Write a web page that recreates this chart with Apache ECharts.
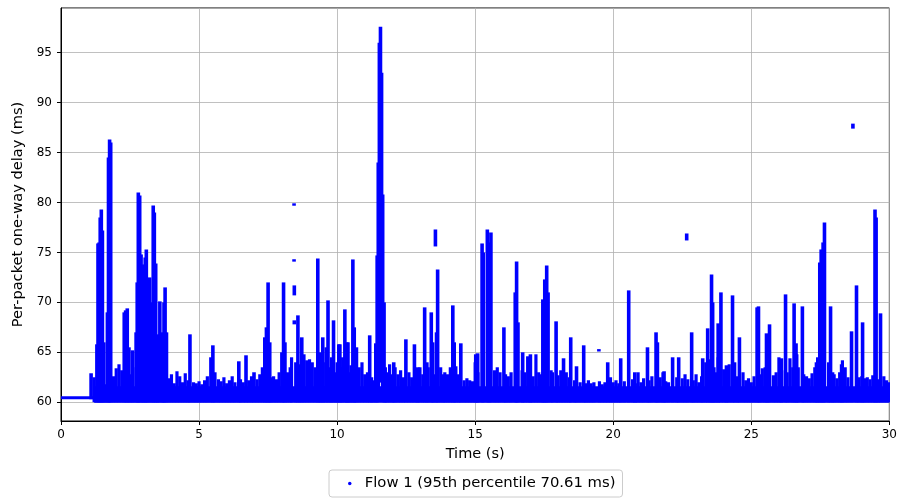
<!DOCTYPE html>
<html><head><meta charset="utf-8">
<script src="https://cdn.jsdelivr.net/npm/echarts@6/dist/echarts.min.js"></script>
<style>html,body{margin:0;padding:0;background:#fff}#c{width:900px;height:500px}</style>
</head><body><div id="c"></div>
<script>
const seriesName = 'Flow 1 (95th percentile 70.61 ms)';
const xLabel = 'Time (s)';
const yLabel = 'Per-packet one-way delay (ms)';
const xRange = [0, 30];
const yRange = [58.12, 99.48];

// dense baseline band: [start time, end time, low delay, high delay]
const bandStart = [0.0, 1.2];
const bandEnd   = [1.2, 30.0];
const bandLow   = [60.3, 59.95];
const bandHigh  = [60.6, 61.6];

// small fluctuations above the baseline: time, top delay
const grassTimes = [1.2,1.6,1.9,2.0,2.1,2.2,2.5,2.6,3.5,3.7,3.9,4.0,4.1,4.2,4.3,4.4,4.5,4.6,4.8,4.9,5.0,5.1,5.2,5.3,5.7,5.8,5.9,6.0,6.1,6.2,6.3,6.5,6.6,6.8,6.9,7.1,7.2,7.6,7.7,7.8,7.9,8.2,8.3,8.35,8.5,8.65,8.8,8.9,9.0,9.1,9.2,9.4,9.5,9.6,9.75,9.8,9.95,10.0,10.15,10.2,10.35,10.4,10.45,10.5,10.65,10.8,10.9,11.0,11.1,11.25,11.3,11.8,11.9,12.0,12.1,12.2,12.3,12.4,12.6,12.7,12.9,13.0,13.1,13.3,13.5,13.75,13.85,13.9,14.0,14.1,14.3,14.4,14.6,14.7,14.8,14.9,15.0,15.1,15.7,15.8,15.9,16.1,16.2,16.3,16.7,16.8,16.9,17.0,17.1,17.2,17.3,17.4,17.5,17.75,17.8,18.0,18.1,18.3,18.4,18.6,18.8,19.0,19.1,19.2,19.3,19.5,19.6,19.7,19.9,20.0,20.1,20.2,20.4,20.7,20.8,20.9,21.0,21.1,21.3,21.4,21.7,21.8,21.9,22.0,22.3,22.5,22.6,22.7,22.9,23.0,23.1,23.2,23.35,23.5,23.65,23.7,23.8,24.0,24.1,24.2,24.4,24.5,24.7,24.8,24.9,25.0,25.1,25.3,25.4,25.5,25.6,25.8,25.9,26.0,26.1,26.3,26.4,26.5,26.65,26.7,26.9,27.0,27.1,27.2,27.3,27.4,27.8,27.95,28.0,28.1,28.2,28.3,28.4,28.5,28.9,29.0,29.1,29.2,29.3,29.4,29.6,29.8,29.9,30.0];
const grassTops  = [62.5,61.8,62.6,63.4,63.8,63.2,62.8,63.5,63.0,62.2,62.4,62.8,61.9,63.1,62.6,62.0,62.9,62.2,62.0,61.9,62.1,61.8,62.2,62.6,62.3,62.1,62.5,61.9,62.2,62.6,62.0,62.3,62.0,62.2,62.6,62.3,62.8,62.5,62.6,62.3,63.0,63.0,63.5,64.5,64.0,63.8,64.8,64.2,64.3,64.0,63.5,64.5,64.0,65.5,63.5,64.5,63.0,64.0,63.5,64.5,64.0,66.0,63.0,63.7,64.0,63.5,64.0,62.8,63.0,62.5,62.2,63.0,63.8,62.8,63.5,62.8,63.2,62.5,63.0,62.5,62.6,63.5,62.8,63.5,62.8,63.5,62.8,63.0,62.8,63.5,63.6,62.8,62.2,62.4,62.2,62.1,64.0,63.0,63.2,63.5,63.0,62.8,62.6,63.0,63.2,63.0,64.6,63.3,62.6,64.8,63.0,62.8,64.0,63.2,63.0,62.7,63.2,63.0,62.5,62.2,62.0,61.9,62.2,61.9,62.0,62.1,61.8,62.0,62.5,62.0,62.2,61.9,62.1,62.3,61.9,63.0,62.0,62.4,62.2,62.6,62.5,63.0,62.1,62.0,62.5,62.4,62.8,62.3,62.2,62.8,62.0,62.6,64.0,64.3,63.5,63.0,64.5,63.3,62.8,63.8,64.0,62.6,63.0,62.2,62.4,62.0,62.6,62.8,63.4,63.5,62.8,62.7,63.0,64.5,63.2,63.0,64.4,63.5,64.8,63.5,62.8,62.6,62.4,62.9,63.5,64.5,64.0,63.0,62.8,62.4,63.0,64.2,63.5,62.5,62.5,62.6,62.4,62.5,62.3,62.7,62.3,62.6,62.2,62.0];

// delay bursts: time, lowest delay, highest delay
const spikeTimes = [1.09,1.30,1.34,1.38,1.42,1.46,1.50,1.55,1.68,1.72,1.76,1.80,2.29,2.34,2.40,2.46,2.59,2.72,2.76,2.80,2.85,2.90,2.96,3.00,3.05,3.09,3.14,3.21,3.28,3.34,3.38,3.43,3.50,3.58,3.66,3.73,3.77,3.82,4.67,
  5.43,5.50,5.57,6.44,6.70,6.99,7.30,7.38,7.44,7.50,7.56,8.00,8.06,8.11,8.44,8.44,8.45,8.45,8.58,8.72,9.30,9.35,9.48,9.67,9.87,10.06,
  10.10,10.28,10.35,10.57,10.62,10.70,11.18,11.40,11.45,11.49,11.53,11.57,11.61,11.65,11.70,11.74,12.05,12.49,12.80,12.92,13.17,13.25,13.41,13.46,13.56,13.60,13.64,14.19,14.24,14.48,15.09,
  15.02,15.25,15.29,15.44,15.50,15.57,16.04,16.45,16.50,16.55,16.72,17.00,17.45,17.52,17.59,17.64,17.93,18.20,18.46,18.67,18.93,19.48,19.80,
  20.27,20.56,20.78,21.24,21.55,21.60,21.84,22.15,22.37,22.66,22.84,23.24,23.42,23.56,23.60,23.80,23.90,24.10,24.32,24.57,25.21,25.26,
  25.55,25.66,26.09,26.24,26.55,26.62,26.85,27.36,27.48,27.53,27.60,27.65,27.87,28.27,28.63,28.68,28.81,29.03,29.48,29.52,29.68];
const spikeLows  = [60.3,60,60,60,60,60,60,60,60,60,60,60,60,60,60,60,60,60,60,60,60,60,60,60,60,60,60,60,60,60,60,60,60,60,60,60,60,60,60,
  60,60,60,60,60,60,60,60,60,60,60,60,60,60,79.7,74.1,70.7,67.8,60,60,60,60,60,60,60,60,
  60,60,60,60,60,60,60,60,60,61.5,62,62,62,61.5,60,60,60,60,60,60,60,60,60,60,75.6,60,60,60,60,60,60,
  60,60,60,60,60,60,60,60,60,60,60,60,60,60,60,60,60,60,60,60,60,65.1,60,
  60,60,60,60,60,60,60,60,60,76.2,60,60,60,60,60,60,60,60,60,60,60,60,
  60,60,60,60,60,60,60,60,60,60,60,60,60,60,60,87.4,60,60,60,60,60];
const spikeHighs = [62.9,65.8,75.9,76.0,78.5,79.3,77.2,66.0,69.0,84.5,86.3,86.0,69.0,69.2,69.4,65.5,65.2,67.0,72.0,81.0,80.7,74.8,73.5,73.8,74.5,75.3,72.0,72.5,70.0,79.7,79.0,73.9,66.8,70.1,67.0,70.0,71.5,67.0,66.8,
  64.5,65.7,63.0,64.1,64.7,63.0,63.5,66.5,67.5,72.0,66.0,65.0,72.0,66.0,79.9,74.3,71.7,68.2,68.7,66.5,74.4,65.0,66.5,70.2,68.2,65.8,
  65.8,69.3,66.0,74.3,67.5,65.5,66.7,65.9,74.7,84.0,96.0,97.6,93.0,80.8,70.0,63.5,64.0,66.3,65.8,63.5,69.5,64.0,69.0,66.0,77.3,67.0,73.3,69.7,66.0,65.9,64.9,
  64.8,75.9,75.0,77.3,76.0,77.0,67.5,71.0,74.1,68.0,65.0,64.8,70.3,72.3,73.7,71.0,68.1,64.4,66.5,63.6,65.7,65.3,64.0,
  64.4,71.2,63.0,65.5,67.0,66.0,63.1,64.5,64.5,76.9,67.0,64.4,67.4,72.8,70.0,67.9,71.0,63.7,70.7,66.5,69.5,69.6,
  66.9,67.8,64.4,70.8,69.9,65.9,69.6,64.0,74.0,75.3,76.0,78.0,69.6,63.8,67.1,87.9,71.7,68.0,79.3,78.5,68.9];

const BLUE = '#0000ff';
const FONT = 'DejaVu Sans';

const bandData = bandStart.map((s, i) => [s, bandEnd[i], bandLow[i], bandHigh[i]]);
const grassData = grassTimes.map((t, i) => [t, 60.0, grassTops[i]]);
const spikeData = spikeTimes.map((t, i) => [t, spikeLows[i], spikeHighs[i]]);

function bandRender(params, api) {
  const a = api.coord([api.value(0), api.value(3)]);
  const b = api.coord([api.value(1), api.value(2)]);
  return { type: 'rect', shape: { x: a[0], y: a[1], width: b[0] - a[0], height: b[1] - a[1] }, style: { fill: BLUE } };
}
function makeRangeRender(w) {
  return function (params, api) {
    const top = api.coord([api.value(0), api.value(2)]);
    const bot = api.coord([api.value(0), api.value(1)]);
    let h = bot[1] - top[1];
    let y = top[1];
    if (h < 2.4) { y -= (2.4 - h) / 2; h = 2.4; }
    return { type: 'rect', shape: { x: top[0] - w / 2, y: y, width: w, height: h }, style: { fill: BLUE } };
  };
}

const chart = echarts.init(document.getElementById('c'), null, { renderer: 'canvas' });
chart.setOption({
  animation: false,
  backgroundColor: '#fff',
  textStyle: { fontFamily: FONT },
  grid: { left: 61, right: 10, top: 8, bottom: 79, show: true, borderColor: '#000', borderWidth: 1, backgroundColor: 'transparent' },
  legend: {
    bottom: 3, left: 329,
    data: [{ name: seriesName, icon: 'circle' }],
    itemWidth: 20, itemHeight: 3.5,
    padding: [6, 7, 6, 19],
    borderColor: '#cccccc', borderWidth: 1, borderRadius: 3,
    backgroundColor: '#fff',
    textStyle: { fontSize: 14.8, fontFamily: FONT, color: '#000' },
    selectedMode: false
  },
  xAxis: {
    type: 'value', min: xRange[0], max: xRange[1], interval: 5,
    name: xLabel, nameLocation: 'middle', nameGap: 26,
    nameTextStyle: { fontSize: 14.5, fontFamily: FONT, color: '#000' },
    axisLine: { show: true, onZero: false, lineStyle: { color: '#000', width: 1 } },
    axisTick: { show: true, length: 4, lineStyle: { color: '#000' } },
    axisLabel: { fontSize: 12, fontFamily: FONT, color: '#000', margin: 8 },
    splitLine: { show: true, lineStyle: { color: '#b0b0b0', width: 0.8 } }
  },
  yAxis: {
    type: 'value', min: yRange[0], max: yRange[1], splitNumber: 8,
    name: yLabel, nameLocation: 'middle', nameGap: 31,
    nameTextStyle: { fontSize: 14.6, fontFamily: FONT, color: '#000' },
    axisLine: { show: true, onZero: false, lineStyle: { color: '#000', width: 1 } },
    axisTick: { show: true, length: 4, lineStyle: { color: '#000' } },
    axisLabel: { fontSize: 12, fontFamily: FONT, color: '#000', margin: 9, showMinLabel: false, showMaxLabel: false,
      formatter: v => (Math.abs(v % 5) < 1e-6 ? String(v) : '') },
    splitLine: { show: true, lineStyle: { color: '#b0b0b0', width: 0.8 } }
  },
  series: [
    { name: seriesName, type: 'custom', renderItem: bandRender, data: bandData, itemStyle: { color: BLUE }, clip: true, encode: { x: [0, 1], y: [2, 3] } },
    { name: seriesName, type: 'custom', renderItem: makeRangeRender(3.2), data: grassData, itemStyle: { color: BLUE }, clip: true, encode: { x: 0, y: [1, 2] } },
    { name: seriesName, type: 'custom', renderItem: makeRangeRender(3.6), data: spikeData, itemStyle: { color: BLUE }, clip: true, encode: { x: 0, y: [1, 2] } }
  ]
});
</script></body></html>
